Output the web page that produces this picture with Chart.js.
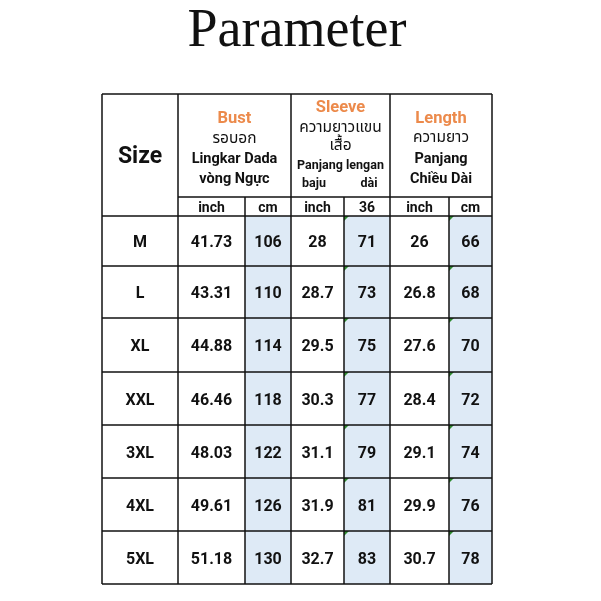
<!DOCTYPE html>
<html>
<head>
<meta charset="utf-8">
<script src="https://cdn.jsdelivr.net/npm/chart.js@4.4.1/dist/chart.umd.min.js"></script>
<style>
  body { margin: 0; background: #fff; }
  #wrap { width: 601px; height: 601px; }
</style>
</head>
<body>
<div id="wrap"><canvas id="sizeChart"></canvas></div>
<script>
// size table data
const sizes = ['M', 'L', 'XL', 'XXL', '3XL', '4XL', '5XL'];
const bustInch = [41.73, 43.31, 44.88, 46.46, 48.03, 49.61, 51.18];
const bustCm = [106, 110, 114, 118, 122, 126, 130];
const sleeveInch = [28, 28.7, 29.5, 30.3, 31.1, 31.9, 32.7];
const sleeveCm = [71, 73, 75, 77, 79, 81, 83];
const lengthInch = [26, 26.8, 27.6, 28.4, 29.1, 29.9, 30.7];
const lengthCm = [66, 68, 70, 72, 74, 76, 78];
const unitLabels = ['inch', 'cm', 'inch', '36', 'inch', 'cm'];
const groupTitles = ['Bust', 'Sleeve', 'Length'];

// table geometry in scale units
const colEdges = [0, 76, 143, 189, 242, 288, 347, 390];
const rowEdges = [0, 103, 122, 172, 224, 278, 331, 384, 437, 490];
const blueCols = [2, 4, 6];
const markCols = [4, 6];

const BOLD = 'bold 16px Roboto, "DejaVu Sans", sans-serif';
const ORANGE = '#ec8a4b';

const tablePlugin = {
  id: 'sizeTable',
  beforeDatasetsDraw(chart) {
    const ctx = chart.ctx;
    const xs = chart.scales.x, ys = chart.scales.y;
    const X = v => xs.getPixelForValue(v);
    const Y = v => ys.getPixelForValue(v);
    const columns = [sizes, bustInch, bustCm, sleeveInch, sleeveCm, lengthInch, lengthCm];

    ctx.save();
    // blue cm cells
    ctx.fillStyle = '#deeaf6';
    blueCols.forEach(c => {
      ctx.fillRect(X(colEdges[c]), Y(rowEdges[2]), X(colEdges[c + 1]) - X(colEdges[c]), Y(rowEdges[9]) - Y(rowEdges[2]));
    });
    // little green corner marks
    ctx.fillStyle = '#2e8b2e';
    markCols.forEach(c => {
      for (let r = 2; r < 9; r++) {
        const x0 = X(colEdges[c]), y0 = Y(rowEdges[r]);
        ctx.beginPath();
        ctx.moveTo(x0, y0);
        ctx.lineTo(x0 + 5, y0);
        ctx.lineTo(x0, y0 + 5);
        ctx.closePath();
        ctx.fill();
      }
    });

    // grid lines
    ctx.strokeStyle = '#111';
    ctx.lineWidth = 1.5;
    const line = (x1, y1, x2, y2) => {
      ctx.beginPath();
      ctx.moveTo(X(x1), Y(y1));
      ctx.lineTo(X(x2), Y(y2));
      ctx.stroke();
    };
    [0, 1, 3, 5, 7].forEach(c => line(colEdges[c], 0, colEdges[c], 490));
    [2, 4, 6].forEach(c => line(colEdges[c], rowEdges[1], colEdges[c], 490));
    line(0, 0, 390, 0);
    line(colEdges[1], rowEdges[1], 390, rowEdges[1]);
    for (let r = 2; r < rowEdges.length; r++) line(0, rowEdges[r], 390, rowEdges[r]);

    ctx.textAlign = 'center';
    ctx.textBaseline = 'middle';
    const mid = (a, b) => (a + b) / 2;
    // +2px: canvas 'middle' sits a bit above the visual centre of the glyphs
    const text = (t, x, y, font, color) => {
      ctx.font = font;
      ctx.fillStyle = color || '#111';
      ctx.fillText(t, X(x), Y(y) + 2);
    };

    // header
    text('Size', mid(colEdges[0], colEdges[1]), mid(rowEdges[0], rowEdges[2]), 'bold 23px Roboto, sans-serif');
    const thai = '15.5px "Noto Sans Thai", "Noto Sans", "DejaVu Sans", sans-serif';
    const latin = 'bold 14.5px Roboto, sans-serif';
    const title = 'bold 16.5px Roboto, sans-serif';
    const small = 'bold 12.5px Roboto, sans-serif';
    const bx = mid(colEdges[1], colEdges[3]);
    text(groupTitles[0], bx, 23, title, ORANGE);
    text('รอบอก', bx, 44, thai);
    text('Lingkar Dada', bx, 63, latin);
    text('vòng Ngực', bx, 83, latin);
    const sx = mid(colEdges[3], colEdges[5]);
    text(groupTitles[1], sx, 12, title, ORANGE);
    text('ความยาวแขน', sx, 33, thai);
    text('เสื้อ', sx, 51, thai);
    text('Panjang lengan', sx, 70, small);
    text('baju', 212, 88, small);
    text('dài', 267, 88, small);
    const lx = mid(colEdges[5], colEdges[7]);
    text(groupTitles[2], lx, 23, title, ORANGE);
    text('ความยาว', lx, 43, thai);
    text('Panjang', lx, 63, latin);
    text('Chiều Dài', lx, 83, latin);

    unitLabels.forEach((u, i) => {
      text(u, mid(colEdges[i + 1], colEdges[i + 2]), mid(rowEdges[1], rowEdges[2]), 'bold 14px Roboto, sans-serif');
    });

    // body
    columns.forEach((col, c) => {
      col.forEach((v, r) => {
        text(String(v), mid(colEdges[c], colEdges[c + 1]), mid(rowEdges[r + 2], rowEdges[r + 3]), BOLD);
      });
    });
    ctx.restore();
  }
};

new Chart(document.getElementById('sizeChart').getContext('2d'), {
  type: 'scatter',
  data: { datasets: [{ data: [] }] },
  options: {
    responsive: true,
    maintainAspectRatio: false,
    animation: false,
    layout: { padding: { left: 102, right: 109, top: 0, bottom: 17 } },
    plugins: {
      legend: { display: false },
      tooltip: { enabled: false },
      title: {
        display: true,
        text: 'Parameter',
        color: '#111',
        font: { family: '"Liberation Serif", "DejaVu Serif", serif', size: 54, weight: 'normal', lineHeight: 1 },
        padding: { top: 5, bottom: 35 }
      }
    },
    scales: {
      x: { type: 'linear', min: 0, max: 390, display: false },
      y: { type: 'linear', min: 0, max: 490, reverse: true, display: false }
    }
  },
  plugins: [tablePlugin]
});
</script>
</body>
</html>
